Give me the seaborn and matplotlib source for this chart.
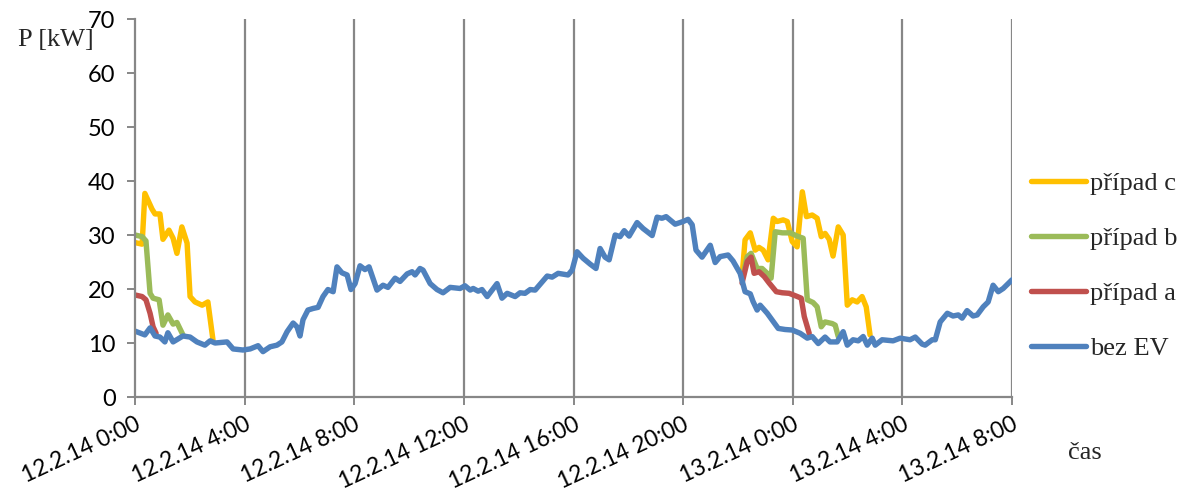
import numpy as np
import pandas as pd
import matplotlib
matplotlib.use("Agg")
import matplotlib.pyplot as plt
import seaborn as sns

# Hours since 12.2.14 0:00 and load P [kW]
bez_ev_h = [0.00, 0.36, 0.55, 0.73, 0.91, 1.09, 1.20, 1.39, 1.75, 2.01, 2.26, 2.55, 2.74, 2.92,
            3.36, 3.58, 3.94, 4.20, 4.49, 4.67, 4.93, 5.18, 5.36, 5.55, 5.77, 5.91, 6.02, 6.13,
            6.31, 6.50, 6.68, 6.86, 7.04, 7.23, 7.37, 7.55, 7.74, 7.88, 8.03, 8.21, 8.39, 8.54,
            8.83, 9.05, 9.23, 9.49, 9.67, 9.93, 10.11, 10.22, 10.40, 10.51, 10.77, 11.02, 11.24,
            11.50, 11.86, 12.04, 12.23, 12.34, 12.52, 12.66, 12.85, 13.21, 13.39, 13.58, 13.87,
            14.05, 14.23, 14.42, 14.60, 15.04, 15.22, 15.44, 15.80, 15.95, 16.13, 16.35, 16.61,
            16.82, 16.97, 17.15, 17.30, 17.52, 17.70, 17.85, 18.03, 18.32, 18.54, 18.87, 19.05,
            19.23, 19.38, 19.71, 20.00, 20.18, 20.33, 20.47, 20.69, 20.99, 21.17, 21.35, 21.64,
            21.82, 22.08, 22.26, 22.45, 22.55, 22.70, 22.81, 23.07, 23.47, 23.72, 23.98, 24.27,
            24.53, 24.71, 24.93, 25.18, 25.36, 25.62, 25.84, 25.99, 26.20, 26.39, 26.57, 26.72,
            26.90, 27.01, 27.26, 27.66, 27.92, 28.28, 28.47, 28.72, 28.83, 29.09, 29.20, 29.38,
            29.64, 29.85, 30.04, 30.18, 30.36, 30.58, 30.73, 30.95, 31.13, 31.31, 31.50, 31.68,
            32.00]
bez_ev_p = [12.2, 11.5, 12.8, 11.3, 11.1, 10.2, 11.9, 10.2, 11.3, 11.1, 10.2, 9.6, 10.4, 10.0,
            10.2, 8.9, 8.7, 8.9, 9.5, 8.4, 9.3, 9.6, 10.2, 12.1, 13.7, 13.0, 11.3, 14.3,
            16.1, 16.4, 16.6, 18.6, 19.9, 19.5, 24.1, 23.0, 22.6, 19.9, 21.0, 24.3, 23.6, 24.1,
            19.8, 20.7, 20.3, 22.0, 21.4, 22.8, 23.2, 22.6, 23.8, 23.5, 21.0, 19.9, 19.3,
            20.3, 20.1, 20.6, 19.8, 20.1, 19.6, 19.9, 18.6, 21.0, 18.3, 19.2, 18.6,
            19.3, 19.2, 19.9, 19.8, 22.4, 22.2, 22.9, 22.6, 23.5, 26.9, 25.7, 24.6,
            23.8, 27.5, 25.9, 25.4, 30.0, 29.7, 30.8, 29.8, 32.3, 31.2, 29.9, 33.3,
            33.1, 33.4, 32.0, 32.5, 32.9, 31.9, 27.2, 25.9, 28.1, 24.9, 26.0, 26.3,
            25.2, 22.9, 19.5, 19.1, 17.7, 16.1, 17.0, 15.5, 12.7, 12.5, 12.4, 11.8,
            10.9, 11.2, 9.9, 11.1, 10.2, 10.2, 12.1, 9.6, 10.6, 10.4, 11.2, 9.6,
            10.9, 9.6, 10.6, 10.4, 10.9, 10.6, 11.1, 9.8, 9.6, 10.6, 10.6, 13.9,
            15.5, 15.0, 15.2, 14.6, 16.0, 15.0, 15.2, 16.7, 17.6, 20.7, 19.5, 20.1,
            21.7]

# Charging scenarios: only the stretches where they differ from the base load
pripad_a_h = [0.00, 0.26, 0.40, 0.55, 0.66, 0.77,
              22.15, 22.34, 22.48, 22.59, 22.77, 22.96, 23.14, 23.40, 23.62, 23.87, 24.12, 24.31,
              24.42, 24.60]
pripad_a_p = [18.9, 18.6, 18.0, 15.5, 13.0, 11.8,
              21.1, 25.1, 25.9, 22.9, 23.2, 22.3, 21.1, 19.5, 19.3, 19.2, 18.7, 18.3,
              14.9, 11.8]

pripad_b_h = [0.00, 0.26, 0.40, 0.55, 0.66, 0.88, 1.02, 1.20, 1.39, 1.53, 1.75,
              22.15, 22.34, 22.48, 22.70, 22.88, 23.07, 23.21, 23.36, 23.62, 23.91, 24.16, 24.38,
              24.53, 24.74, 24.89, 25.04, 25.18, 25.44, 25.55, 25.66]
pripad_b_p = [30.0, 29.7, 28.9, 19.2, 18.3, 18.0, 13.3, 15.2, 13.5, 13.8, 11.5,
              21.7, 26.0, 26.6, 23.8, 23.8, 22.9, 22.0, 30.6, 30.4, 30.4, 29.8, 29.4,
              18.0, 17.5, 16.7, 13.0, 13.9, 13.6, 13.3, 11.2]

pripad_c_h = [0.00, 0.26, 0.36, 0.62, 0.73, 0.91, 1.02, 1.24, 1.39, 1.53, 1.71, 1.90, 2.01,
              2.19, 2.45, 2.66, 2.85,
              22.15, 22.26, 22.45, 22.63, 22.77, 22.92, 23.10, 23.29, 23.43, 23.65, 23.80, 23.98,
              24.16, 24.35, 24.50, 24.71, 24.89, 25.04, 25.18, 25.33, 25.47, 25.66, 25.84, 25.99,
              26.17, 26.35, 26.53, 26.68, 26.82]
pripad_c_p = [28.6, 28.3, 37.7, 34.8, 33.9, 33.9, 29.2, 30.9, 29.4, 26.6, 31.5, 28.5, 18.6,
              17.6, 17.0, 17.6, 10.4,
              22.3, 29.1, 30.4, 27.2, 27.7, 27.2, 25.4, 33.1, 32.5, 32.8, 32.5, 28.8,
              27.8, 38.0, 33.4, 33.7, 33.1, 29.7, 30.3, 29.2, 26.1, 31.5, 30.0, 17.0,
              18.0, 17.6, 18.6, 16.7, 11.5]

series_names = ["případ c", "případ b", "případ a", "bez EV"]
series_colors = ["#FFC000", "#9BBB59", "#C0504D", "#4F81BD"]

tick_hours = [0, 4, 8, 12, 16, 20, 24, 28, 32]
tick_labels = ["12.2.14 0:00", "12.2.14 4:00", "12.2.14 8:00", "12.2.14 12:00",
               "12.2.14 16:00", "12.2.14 20:00", "13.2.14 0:00", "13.2.14 4:00",
               "13.2.14 8:00"]

frames = []
for name, hrs, vals in [("případ c", pripad_c_h, pripad_c_p),
                        ("případ b", pripad_b_h, pripad_b_p),
                        ("případ a", pripad_a_h, pripad_a_p),
                        ("bez EV", bez_ev_h, bez_ev_p)]:
    frames.append(pd.DataFrame({"t": hrs, "P": vals, "series": name}))
df = pd.concat(frames, ignore_index=True)

sns.set_style("white")
plt.rcParams["font.family"] = ["Lato", "DejaVu Sans"]

fig = plt.figure(figsize=(11.83, 4.93), dpi=100)
ax = fig.add_axes([135 / 1183, 1 - 397 / 493, (1012 - 135) / 1183, (397 - 19) / 493])

grid_col = "#878787"
for h in tick_hours[1:]:
    ax.axvline(h, color=grid_col, lw=1.6, zorder=0)

LW = 3.9
# Each scenario drawn as its own segments; base load drawn last, on top
for name, col in zip(series_names, series_colors):
    sub = df[df["series"] == name].copy()
    # split into continuous stretches (gap in time => separate piece)
    sub["seg"] = (sub["t"].diff() > 3).cumsum().values
    sns.lineplot(data=sub, x="t", y="P", units="seg", estimator=None, sort=False,
                 color=col, lw=LW, ax=ax, solid_joinstyle="round", solid_capstyle="round")

ax.set_xlim(0, 32)
ax.set_ylim(0, 70)
ax.set_yticks(range(0, 71, 10))
ax.set_xticks(tick_hours)
ax.set_xticklabels(tick_labels, rotation=25, ha="right", rotation_mode="anchor")
ax.set_xlabel("")
ax.set_ylabel("")

for side in ["top", "right"]:
    ax.spines[side].set_visible(False)
for side in ["left", "bottom"]:
    ax.spines[side].set_color(grid_col)
    ax.spines[side].set_linewidth(1.6)

ax.tick_params(axis="y", which="major", left=True, length=6, width=1.4, color=grid_col,
               labelsize=17, pad=8, labelcolor="black")
ax.tick_params(axis="x", which="major", bottom=True, length=6, width=1.4, color=grid_col,
               labelsize=16.5, pad=6, labelcolor="black")

serif = ["Liberation Serif", "DejaVu Serif"]
fig.text(18 / 1183, 1 - 40 / 493, "P [kW]", family=serif, fontsize=19, ha="left", va="center")
fig.text(1085 / 1183, 1 - 453 / 493, "čas", family=serif, fontsize=19, ha="center", va="center")

handles = [plt.Line2D([], [], color=c, lw=LW, solid_capstyle="round") for c in series_colors]
ax.legend(handles, series_names, loc="center left", bbox_to_anchor=(1020 / 1183, 1 - 266 / 493),
          bbox_transform=fig.transFigure, frameon=False, prop={"family": serif, "size": 19},
          handlelength=2.1, handletextpad=0.15, labelspacing=1.2, borderaxespad=0)

fig.savefig("out.png", dpi=100)
